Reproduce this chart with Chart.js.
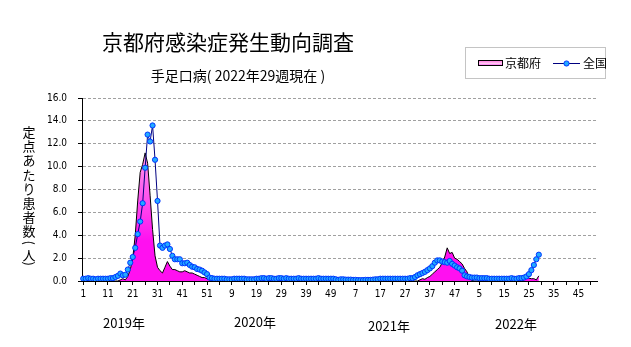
<!DOCTYPE html>
<html>
<head>
<meta charset="utf-8">
<script src="https://cdn.jsdelivr.net/npm/chart.js@4.4.1/dist/chart.umd.min.js"></script>
<style>
  html, body { margin: 0; padding: 0; background: #fff; }
  #wrap { width: 631px; height: 347px; position: relative; }
</style>
</head>
<body>
<div id="wrap"><canvas id="grafica" width="631" height="347"></canvas></div>
<script>
// 週番号 (2019〜2022, 各52週)
const years = ["2019年", "2020年", "2021年", "2022年"];
const weeksPerYear = [52, 52, 52, 52];
const weekLabels = [];
weeksPerYear.forEach(n => { for (let w = 1; w <= n; w++) weekLabels.push(String(w)); });

// 京都府 定点あたり患者数
const kyoto2019 = [0, 0, 0, 0, 0, 0, 0, 0, 0, 0, 0, 0, 0, 0, 0, 0.1, 0.2, 0.1, 0.4, 1.0,
  2.0, 4.0, 7.0, 9.5, 10.2, 11.2, 10.3, 7.5, 4.5, 2.2, 1.2, 0.9, 0.7, 1.2, 1.7, 1.3, 1.0, 1.0, 0.9, 0.8,
  0.8, 0.9, 0.8, 0.7, 0.7, 0.6, 0.5, 0.4, 0.3, 0.3, 0.2, 0.1];
const kyoto2020 = [0.05, 0, 0, 0, 0, 0, 0, 0, 0, 0, 0, 0, 0, 0, 0, 0, 0, 0, 0, 0,
  0, 0, 0, 0, 0, 0, 0, 0, 0, 0, 0, 0, 0, 0, 0.05, 0, 0, 0, 0, 0,
  0, 0, 0, 0, 0, 0, 0, 0, 0, 0, 0, 0];
const kyoto2021 = [0, 0, 0, 0, 0, 0, 0, 0, 0, 0, 0, 0, 0, 0, 0, 0, 0, 0, 0, 0,
  0, 0, 0, 0, 0, 0, 0, 0, 0, 0, 0, 0, 0.1, 0.2, 0.15, 0.3, 0.4, 0.6, 0.8, 1.0,
  1.2, 1.6, 2.1, 2.9, 2.4, 2.5, 2.0, 1.9, 1.7, 1.5, 1.1, 0.8];
const kyoto2022 = [0.2, 0.05, 0, 0, 0, 0, 0, 0, 0, 0, 0, 0, 0, 0, 0, 0, 0, 0, 0, 0,
  0, 0, 0.1, 0.3, 0.25, 0.2, 0.2, 0.1, 0.45];

// 全国 定点あたり患者数
const zenkoku2019 = [0.2, 0.2, 0.25, 0.2, 0.2, 0.15, 0.2, 0.2, 0.2, 0.2, 0.2, 0.25, 0.25, 0.35, 0.45, 0.65, 0.5, 0.55, 1.0, 1.6,
  2.1, 2.9, 4.1, 5.2, 6.8, 9.9, 12.8, 12.2, 13.6, 10.6, 7.0, 3.1, 2.9, 3.1, 3.2, 2.8, 2.2, 1.9, 1.9, 1.9,
  1.55, 1.55, 1.6, 1.4, 1.25, 1.2, 1.05, 1.0, 0.9, 0.75, 0.6, 0.3];
const zenkoku2020 = [0.25, 0.2, 0.2, 0.2, 0.2, 0.2, 0.15, 0.15, 0.15, 0.2, 0.2, 0.2, 0.2, 0.2, 0.15, 0.15, 0.15, 0.15, 0.2, 0.2,
  0.25, 0.25, 0.2, 0.25, 0.25, 0.2, 0.2, 0.25, 0.25, 0.2, 0.25, 0.2, 0.2, 0.2, 0.2, 0.25, 0.2, 0.2, 0.2, 0.2,
  0.2, 0.2, 0.2, 0.25, 0.2, 0.2, 0.2, 0.2, 0.2, 0.2, 0.15, 0.1];
const zenkoku2021 = [0.15, 0.15, 0.12, 0.12, 0.12, 0.1, 0.1, 0.08, 0.08, 0.08, 0.1, 0.1, 0.1, 0.12, 0.15, 0.15, 0.2, 0.2, 0.2, 0.2,
  0.2, 0.2, 0.2, 0.2, 0.2, 0.2, 0.2, 0.2, 0.25, 0.25, 0.35, 0.5, 0.6, 0.7, 0.8, 0.95, 1.1, 1.3, 1.6, 1.8,
  1.8, 1.7, 1.65, 1.6, 1.75, 1.5, 1.35, 1.2, 1.1, 0.9, 0.5, 0.4];
const zenkoku2022 = [0.35, 0.3, 0.3, 0.3, 0.25, 0.25, 0.25, 0.25, 0.2, 0.2, 0.2, 0.2, 0.2, 0.2, 0.2, 0.2, 0.2, 0.25, 0.2, 0.2,
  0.25, 0.25, 0.3, 0.4, 0.6, 0.95, 1.4, 1.9, 2.3];

const yTicks = [0, 2, 4, 6, 8, 10, 12, 14, 16];

const total = weekLabels.length;
const pad = arr => arr.concat(Array(52 - arr.length).fill(null));
const kyoto = kyoto2019.concat(kyoto2020, kyoto2021, pad(kyoto2022));
const zenkoku = zenkoku2019.concat(zenkoku2020, zenkoku2021, pad(zenkoku2022));

const JP = '"Noto Sans CJK JP", "Noto Sans", sans-serif';
const NARROW = '"Liberation Sans Narrow", "DejaVu Sans Condensed", "Liberation Sans", sans-serif';

// 京都府の塗りつぶし (上が薄いピンク、下がマゼンタ)
const relleno = (context) => {
  const { chart } = context;
  const area = chart.chartArea;
  if (!area) return "#ff00ff";
  const g = chart.ctx.createLinearGradient(0, area.top + 40, 0, area.bottom - 40);
  g.addColorStop(0, "#ffb0ea");
  g.addColorStop(1, "#ff10f0");
  return g;
};

// タイトル・凡例・軸タイトル・年ラベル
const extras = {
  id: "extras",
  afterDraw(chart) {
    const c = chart.ctx;
    c.save();
    c.fillStyle = "#000";
    c.textAlign = "center";
    c.textBaseline = "middle";

    c.font = "21px " + JP;
    c.fillText("京都府感染症発生動向調査", 228, 42);
    c.font = "14px " + JP;
    c.fillText("手足口病( 2022年29週現在 )", 238, 76);

    // 縦書きの軸タイトル
    c.font = "13px " + JP;
    const chars = "定点あたり患者数(人)".split("");
    let y = 132;
    chars.forEach(ch => {
      if (ch === "(" || ch === ")") {
        const py = ch === "(" ? y - 3 : y - 5;
        c.save();
        c.translate(29, py);
        c.rotate(Math.PI / 2);
        c.fillText(ch, 0, 0);
        c.restore();
        y += 9;
      } else {
        c.fillText(ch, 29, y);
        y += 14.2;
      }
    });

    // 年ラベル
    c.font = "13px " + JP;
    const yearPos = [[124, 323], [255, 322], [389, 326], [516, 324]];
    years.forEach((t, k) => c.fillText(t, yearPos[k][0], yearPos[k][1]));

    // 凡例
    c.setLineDash([1, 1]);
    c.strokeStyle = "#888";
    c.lineWidth = 1;
    c.strokeRect(465.5, 47.5, 140, 31);
    c.setLineDash([]);

    const sw = c.createLinearGradient(0, 60, 0, 67);
    sw.addColorStop(0, "#ff60dc");
    sw.addColorStop(0.5, "#ffc8f2");
    sw.addColorStop(1, "#ff00ff");
    c.fillStyle = sw;
    c.fillRect(478, 60, 25, 6);
    c.strokeStyle = "#000";
    c.strokeRect(478.5, 60.5, 24, 5);

    c.fillStyle = "#000";
    c.textAlign = "left";
    c.font = "12px " + JP;
    c.fillText("京都府", 505, 63);

    c.strokeStyle = "#000080";
    c.beginPath();
    c.moveTo(553, 63.5);
    c.lineTo(580, 63.5);
    c.stroke();
    c.beginPath();
    c.arc(566.5, 63.5, 2.6, 0, Math.PI * 2);
    c.fillStyle = "#22aaff";
    c.fill();
    c.strokeStyle = "#0033ff";
    c.stroke();

    c.fillStyle = "#000";
    c.fillText("全国", 583, 63);
    c.restore();
  }
};

new Chart(document.getElementById("grafica"), {
  type: "line",
  data: {
    labels: weekLabels,
    datasets: [{
      label: "全国",
      data: zenkoku,
      order: 0,
      borderColor: "#000080",
      borderWidth: 1,
      pointRadius: 2.6,
      pointBackgroundColor: "#22aaff",
      pointBorderColor: "#0033ff",
      pointBorderWidth: 1,
      tension: 0,
      fill: false
    }, {
      label: "京都府",
      data: kyoto,
      order: 1,
      borderColor: "#000",
      borderWidth: 1,
      pointRadius: 0,
      backgroundColor: relleno,
      tension: 0,
      fill: "origin"
    }]
  },
  options: {
    responsive: false,
    devicePixelRatio: 1,
    animation: false,
    layout: { padding: { top: 98, right: 34, left: 0, bottom: 0 } },
    plugins: { legend: { display: false }, tooltip: { enabled: false } },
    scales: {
      x: {
        offset: true,
        grid: {
          offset: false,
          drawOnChartArea: false,
          drawTicks: true,
          tickLength: 4,
          color: ctx => (ctx.index % 5 === 0 ? "#000" : "rgba(0,0,0,0)")
        },
        border: { color: "#000", width: 1 },
        ticks: {
          autoSkip: false,
          maxRotation: 0,
          minRotation: 0,
          padding: 3,
          color: "#000",
          font: { family: NARROW, size: 10 },
          callback: (v, i) => (i % 10 === 0 ? weekLabels[i] : "")
        },
        afterFit: s => { s.height = 66; }
      },
      y: {
        min: 0,
        max: 16,
        afterBuildTicks: s => { s.ticks = yTicks.map(v => ({ value: v })); },
        grid: {
          color: "#a0a0a0",
          tickColor: "#000",
          tickLength: 4
        },
        border: { color: "#000", width: 1, dash: [3, 2] },
        ticks: {
          padding: 11,
          color: "#000",
          font: { family: NARROW, size: 10 },
          callback: v => Number(v).toFixed(1)
        },
        afterFit: s => { s.width = 82; }
      }
    }
  },
  plugins: [extras]
});
</script>
</body>
</html>
